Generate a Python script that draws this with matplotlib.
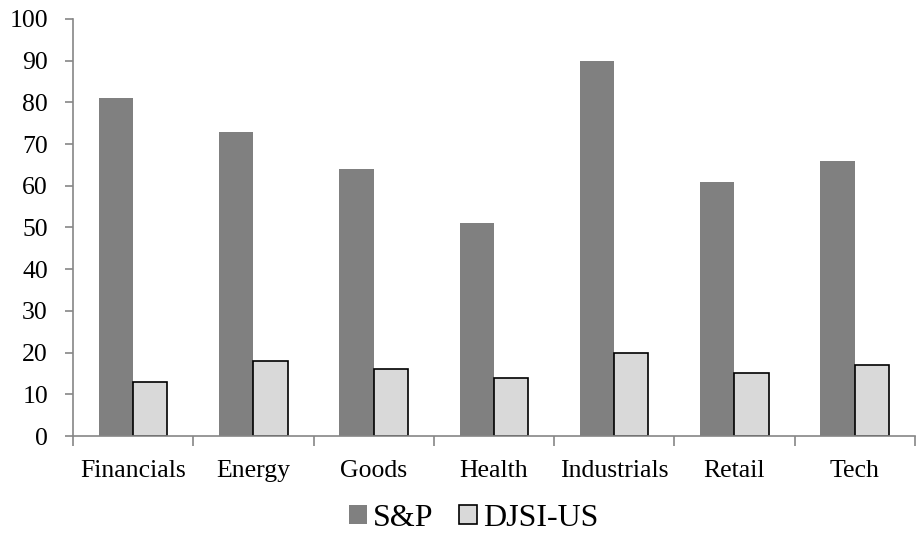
import numpy as np
import matplotlib.pyplot as plt

categories = ['Financials', 'Energy', 'Goods', 'Health', 'Industrials', 'Retail', 'Tech']
sp_values = [81, 73, 64, 51, 90, 61, 66]
djsi_values = [13, 18, 16, 14, 20, 15, 17]

plt.rcParams['font.family'] = ['Liberation Serif', 'DejaVu Serif']

fig = plt.figure(figsize=(9.17, 5.39), dpi=100)
ax = fig.add_axes([0.0796, 0.191, 0.918, 0.774])

x = np.arange(len(categories))
w = 0.285
ax.bar(x - w / 2, sp_values, w, color='#808080', label='S&P', zorder=2)
ax.bar(x + w / 2, djsi_values, w, color='#d9d9d9', edgecolor='black',
       linewidth=1.2, label='DJSI-US', zorder=2)

ax.set_xlim(-0.5, len(categories) - 0.5)
ax.set_ylim(0, 100)
ax.set_yticks(range(0, 101, 10))
ax.tick_params(axis='y', labelsize=18.5, length=6, color='#868686', width=1.2, pad=12)

# category labels centred, tick marks between groups
ax.set_xticks(np.arange(len(categories) + 1) - 0.5)
ax.set_xticklabels([])
ax.set_xticks(x, minor=True)
ax.set_xticklabels(categories, minor=True, fontsize=18.5)
ax.tick_params(axis='x', which='major', length=7, color='#868686', width=1.2)
ax.tick_params(axis='x', which='minor', length=0, pad=17)

for side in ['top', 'right']:
    ax.spines[side].set_visible(False)
for side in ['left', 'bottom']:
    ax.spines[side].set_color('#868686')
    ax.spines[side].set_linewidth(1.2)

fig.legend(loc='center', bbox_to_anchor=(0.517, 0.038), ncol=2, frameon=False,
           fontsize=23, handlelength=0.55, handleheight=0.55, handletextpad=0.2,
           columnspacing=0.8)

fig.savefig('out.png', dpi=100)
